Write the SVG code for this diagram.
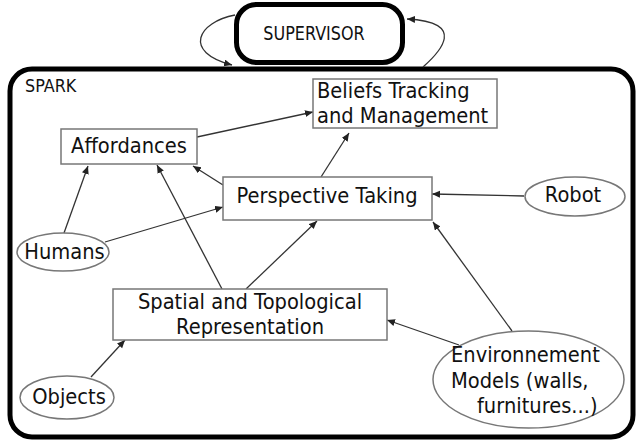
<svg xmlns="http://www.w3.org/2000/svg" width="637" height="444" viewBox="0 0 637 444">
<style>
text{font-family:"DejaVu Sans","Liberation Sans",sans-serif;fill:#111}
.t{font-size:19.5px}
.s{font-size:16px}
.box{fill:#fff;stroke:#777;stroke-width:1.5}
.frame{fill:none;stroke:#000;stroke-width:5}
.e{fill:none;stroke:#333;stroke-width:1.3;marker-end:url(#ah)}
</style>
<defs>
<marker id="ah" markerUnits="userSpaceOnUse" markerWidth="10" markerHeight="8" refX="8" refY="3.5" orient="auto">
<path d="M0,0 L8,3.5 L0,7 z" fill="#222"/>
</marker>
</defs>
<rect width="637" height="444" fill="#fff"/>
<g id="spark">
<rect class="frame" x="10" y="69" width="623" height="368" rx="22"/>
<text class="s" transform="translate(25,92) scale(1,1.05)">SPARK</text>
</g>
<g id="supervisor">
<rect class="frame" x="236.5" y="4.5" width="166" height="58" rx="20" fill="#fff"/>
<text class="s" transform="translate(314,40) scale(1,1.2)" text-anchor="middle">SUPERVISOR</text>
</g>
<g id="connectors">
<path class="e" d="M235,15 C198,22 182,52 232,65"/>
<path class="e" d="M423,67 C440,52 468,22 407,19"/>
<path class="e" d="M197,137 L313,112"/>
<path class="e" d="M223,185 L193,166"/>
<path class="e" d="M64,233 L88,166"/>
<path class="e" d="M105,242 L223,207"/>
<path class="e" d="M222,289 L157,165"/>
<path class="e" d="M246,289 L317,221"/>
<path class="e" d="M321,177 L349,133"/>
<path class="e" d="M524,196 L432,194"/>
<path class="e" d="M512,331 L433,222"/>
<path class="e" d="M459,345 L387,320"/>
<path class="e" d="M91,377 L125,340"/>
</g>
<g id="beliefs">
<rect class="box" x="313" y="79" width="184" height="49"/>
<text class="t" transform="translate(317,97.5) scale(1,1.1)">Beliefs Tracking</text>
<text class="t" transform="translate(317,122.5) scale(1,1.1)">and Management</text>
</g>
<g id="affordances">
<rect class="box" x="61" y="129" width="136" height="35"/>
<text class="t" transform="translate(129,153) scale(1,1.1)" text-anchor="middle">Affordances</text>
</g>
<g id="perspective">
<rect class="box" x="223" y="177" width="209" height="43"/>
<text class="t" transform="translate(327,203) scale(1,1.1)" text-anchor="middle">Perspective Taking</text>
</g>
<g id="robot">
<ellipse class="box" cx="575" cy="196.5" rx="50" ry="19.5"/>
<text class="t" transform="translate(573,202) scale(1,1.1)" text-anchor="middle">Robot</text>
</g>
<g id="humans">
<ellipse class="box" cx="63" cy="252" rx="46" ry="19"/>
<text class="t" transform="translate(64.5,258.5) scale(1,1.1)" text-anchor="middle">Humans</text>
</g>
<g id="spatial">
<rect class="box" x="113" y="289" width="274" height="51"/>
<text class="t" transform="translate(250,308.5) scale(1,1.1)" text-anchor="middle">Spatial and Topological</text>
<text class="t" transform="translate(250,333.5) scale(1,1.1)" text-anchor="middle">Representation</text>
</g>
<g id="objects">
<ellipse class="box" cx="67" cy="397.5" rx="47" ry="21.5"/>
<text class="t" transform="translate(69,403.5) scale(1,1.1)" text-anchor="middle">Objects</text>
</g>
<g id="environment">
<ellipse class="box" cx="528.5" cy="379.5" rx="95.5" ry="48.5"/>
<text class="t" transform="translate(451,361.5) scale(1,1.1)">Environnement</text>
<text class="t" transform="translate(451,387.5) scale(1,1.1)">Models (walls,</text>
<text class="t" transform="translate(477,412.5) scale(1,1.1)">furnitures...)</text>
</g>
</svg>
